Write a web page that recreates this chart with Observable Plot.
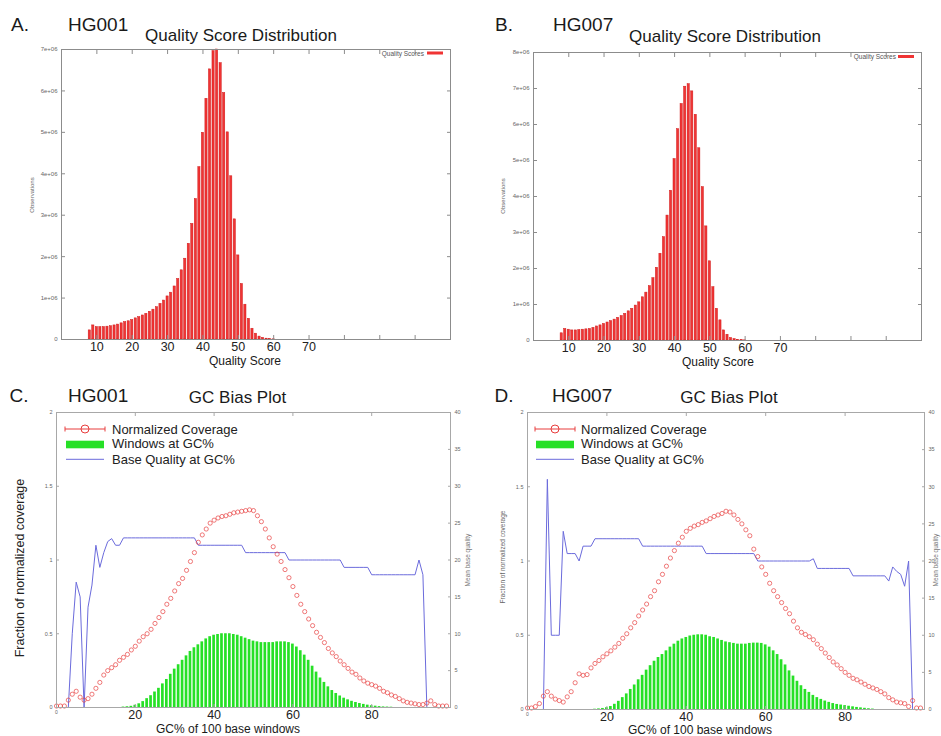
<!DOCTYPE html>
<html><head><meta charset="utf-8">
<script src="https://cdn.jsdelivr.net/npm/d3@7"></script>
<script src="https://cdn.jsdelivr.net/npm/@observablehq/plot@0.6"></script>
<style>
body{margin:0;background:#fff;}
#fig{position:relative;width:941px;height:736px;overflow:hidden;background:#fff;font-family:"Liberation Sans",Arial,sans-serif;}
.abs{position:absolute;white-space:nowrap;line-height:1;}
.panel{position:absolute;}
</style></head><body><div id="fig"></div>
<script>
// ---------- Quality score distributions (observations, millions) ----------
const qualityScores = d3.range(8, 61);
const hg001Observations = [0.22,0.34,0.30,0.30,0.30,0.31,0.32,0.34,0.36,0.39,0.42,0.44,0.47,0.51,0.54,0.58,0.62,0.67,0.72,0.78,0.86,0.94,1.04,1.13,1.28,1.46,1.67,1.95,2.31,2.79,3.39,4.16,4.99,5.81,6.52,6.96,7.0,6.67,5.95,5.0,3.94,2.90,2.03,1.34,0.84,0.50,0.26,0.14,0.07,0.04,0.02,0.01,0.005];
const hg007Observations = [0.20,0.32,0.30,0.28,0.28,0.29,0.30,0.31,0.32,0.35,0.39,0.42,0.46,0.50,0.54,0.58,0.63,0.68,0.74,0.81,0.88,0.97,1.06,1.20,1.33,1.51,1.73,2.02,2.41,2.87,3.47,4.16,5.04,5.87,6.57,7.05,7.12,6.92,6.27,5.34,4.26,3.17,2.2,1.48,0.88,0.56,0.28,0.16,0.07,0.04,0.02,0.01,0.005];
const obsTicksA = [0,1,2,3,4,5,6,7];
const obsTicksB = [0,1,2,3,4,5,6,7,8];
const qualityTickLabels = [10,20,30,40,50,60,70];
const qualityTicks = [10,20,30,40,50,60,70,80,90,100];

// ---------- GC bias ----------
const gcPercent = d3.range(0, 100);
const hg001Coverage = [0.01,0.01,0.01,0.05,0.09,0.11,0.07,0.05,0.06,0.09,
 0.13,0.17,0.22,0.25,0.27,0.29,0.32,0.34,0.36,0.39,
 0.415,0.45,0.48,0.50,0.53,0.57,0.61,0.65,0.70,0.74,
 0.79,0.84,0.875,0.93,0.99,1.05,1.12,1.17,1.21,1.25,
 1.27,1.285,1.295,1.30,1.31,1.32,1.325,1.33,1.335,1.34,
 1.335,1.30,1.26,1.21,1.15,1.09,1.04,0.99,0.935,0.88,
 0.82,0.76,0.70,0.65,0.60,0.555,0.51,0.475,0.44,0.40,
 0.37,0.345,0.315,0.29,0.265,0.24,0.225,0.20,0.18,0.165,
 0.155,0.145,0.13,0.11,0.10,0.085,0.075,0.06,0.045,0.035,
 0.03,0.025,0.02,0.02,0.03,0.045,0.02,0.01,0.01,0.01];
const hg007Coverage = [0.01,0.01,0.02,0.04,0.09,0.12,0.09,0.07,0.06,0.05,
 0.085,0.12,0.18,0.24,0.23,0.235,0.28,0.31,0.33,0.355,
 0.375,0.395,0.42,0.445,0.48,0.51,0.55,0.585,0.63,0.67,
 0.71,0.76,0.80,0.86,0.91,0.965,1.02,1.07,1.12,1.16,
 1.20,1.22,1.235,1.245,1.26,1.27,1.285,1.30,1.31,1.32,
 1.335,1.33,1.31,1.28,1.25,1.21,1.17,1.08,1.03,0.96,
 0.91,0.85,0.80,0.76,0.72,0.68,0.645,0.595,0.55,0.52,
 0.505,0.49,0.47,0.44,0.41,0.38,0.35,0.32,0.30,0.275,
 0.25,0.23,0.21,0.20,0.185,0.17,0.155,0.145,0.135,0.12,
 0.105,0.08,0.065,0.05,0.045,0.04,0.02,0.06,0.01,0.01];
const hg001BaseQuality = [0,0,0,0,10,17,15,0,13.6,16.6,
 22,19,21,22.5,22.9,22,22,23,23,23,
 23,23,23,23,23,23,23,23,23,23,
 23,23,23,23,23,23,22,22,22,22,
 22,22,22,22,22,22,22,22,21,21,
 21,21,21,21,21,21,21,21,21,20,
 20,20,20,20,20,20,20,20,20,20,
 20,20,20,19,19,19,19,19,19,19,
 18,18,18,18,18,18,18,18,18,18,
 18,18,20,18,0];
const hg007BaseQuality = [0,0,0,0,0,31,10,10,10,24,
 21,21,21,20,22,22,22,23,23,23,
 23,23,23,23,23,23,23,23,23,22,
 22,22,22,22,22,22,22,22,22,22,
 22,22,22,22,22,21,21,21,21,21,
 21,21,21,21,21,21,21,21,20,20,
 20,20,20,20,20,20,20,20,20,20,
 20,20,20.3,19,19,19,19,19,19,19,
 19,19,18,18,18,18,18,18,18,18,
 18,17.3,19.2,18.6,18.2,16.6,20,0];
const hg001WindowGC = d3.range(17, 86);
const hg001Windows = [0.003,0.005,0.008,0.015,0.025,0.04,0.06,0.08,0.105,0.13,
 0.16,0.19,0.225,0.26,0.29,0.32,0.35,0.38,0.405,0.425,
 0.445,0.465,0.48,0.49,0.495,0.50,0.50,0.50,0.495,0.49,
 0.48,0.47,0.46,0.45,0.445,0.44,0.44,0.44,0.44,0.445,
 0.445,0.445,0.44,0.43,0.41,0.385,0.355,0.32,0.28,0.24,
 0.20,0.17,0.14,0.115,0.095,0.078,0.063,0.052,0.042,0.034,
 0.027,0.021,0.016,0.012,0.009,0.006,0.004,0.003,0.002];
const hg007WindowGC = d3.range(17, 88);
const hg007Windows = [0.002,0.004,0.007,0.012,0.02,0.035,0.055,0.08,0.105,0.135,
 0.165,0.20,0.23,0.265,0.295,0.325,0.35,0.37,0.395,0.42,
 0.44,0.46,0.475,0.485,0.495,0.50,0.503,0.503,0.50,0.49,
 0.485,0.475,0.465,0.455,0.45,0.445,0.44,0.44,0.44,0.445,
 0.447,0.447,0.445,0.435,0.42,0.395,0.37,0.335,0.30,0.26,
 0.225,0.19,0.16,0.135,0.115,0.095,0.08,0.068,0.057,0.048,
 0.04,0.034,0.03,0.026,0.022,0.018,0.014,0.011,0.008,0.005,0.003];
const coverageTicks = [0,0.5,1,1.5,2];
const baseQualityTicks = [0,5,10,15,20,25,30,35,40];
const coverageMax = 2, baseQualityMax = 40;
const gcTickLabels = [20,40,60,80];
const gcTicks = [0,20,40,60,80,100];

// ---------- build ----------
const fig = document.getElementById("fig");
const plotStyle = {fontFamily: '"Liberation Sans", Arial, sans-serif', fontSize: "10px", background: "transparent", overflow: "visible"};

function place(node, left, top, w, h) {
  const d = document.createElement("div");
  d.className = "panel";
  d.style.cssText = `left:${left}px;top:${top}px;width:${w}px;height:${h}px;`;
  d.appendChild(node); fig.appendChild(d);
}
function txt(text, x, y, size, {anchor = "middle", rotate = 0, color = "#1a1a1a"} = {}) {
  const d = document.createElement("div");
  d.className = "abs"; d.textContent = text;
  const tx = anchor === "start" ? "0" : anchor === "end" ? "-100%" : "-50%";
  d.style.left = x + "px"; d.style.top = y + "px";
  d.style.fontSize = size + "px"; d.style.color = color;
  d.style.transform = `translate(${tx},-50%)` + (rotate ? ` rotate(${rotate}deg)` : "");
  fig.appendChild(d);
}

function qualityPlot(obs, yTicks, w, h, m) {
  const table = qualityScores.map((q, i) => ({q, v: obs[i]}));
  const grey = "#8c8c8c";
  return Plot.plot({
    width: w, height: h, marginLeft: m[0], marginRight: m[1], marginTop: m[2], marginBottom: m[3],
    x: {domain: [0, 110], label: null},
    y: {domain: [0, yTicks[yTicks.length - 1]], label: null},
    style: plotStyle,
    marks: [
      Plot.rectY(table, {x1: d => d.q - 0.31, x2: d => d.q + 0.31, y: "v", fill: "#f03434", stroke: "#d01a1a", strokeWidth: 0.5}),
      Plot.frame({stroke: grey}),
      Plot.axisY({ticks: yTicks, tickSize: 0, tickPadding: 4, fontSize: 6, fill: "#666", tickFormat: d => d === 0 ? "0" : `${d}e+06`, label: null}),
      Plot.axisY({ticks: yTicks, tickSize: -4, text: null, stroke: grey, label: null}),
      Plot.axisY({anchor: "right", ticks: yTicks, tickSize: -4, text: null, stroke: grey, label: null}),
      Plot.axisX({ticks: qualityTicks, tickSize: -4, text: null, stroke: grey, label: null}),
      Plot.axisX({anchor: "top", ticks: qualityTicks, tickSize: -4, text: null, stroke: grey, label: null}),
      Plot.axisX({ticks: qualityTickLabels, tickSize: 0, tickPadding: 3, fontSize: 12.5, fill: "#222", label: null})
    ]
  });
}

function gcPlot(coverage, baseQuality, windowGC, windows, w, h, m, pad) {
  const red = gcPercent.map((gc, i) => ({gc, v: coverage[i]}));
  const blue = baseQuality.map((q, i) => ({gc: gcPercent[i], q}));
  const green = windowGC.map((gc, i) => ({gc, v: windows[i]}));
  const grey = "#a8a8a8";
  const rightPos = baseQualityTicks.map(d => d * coverageMax / baseQualityMax);
  return Plot.plot({
    width: w, height: h, marginLeft: m[0], marginRight: m[1], marginTop: m[2], marginBottom: m[3],
    x: {domain: [0, 100], label: null},
    y: {domain: [0, coverageMax], label: null},
    style: plotStyle,
    marks: [
      Plot.rectY(green, {x1: d => d.gc - 0.34, x2: d => d.gc + 0.34, y: "v", fill: "#26e026"}),
      Plot.line(blue, {x: "gc", y: d => d.q * coverageMax / baseQualityMax, stroke: "#6b6bdc", strokeWidth: 1}),
      Plot.dot(red, {x: "gc", y: "v", r: 2.1, stroke: "#e83c3c", strokeWidth: 0.75, strokeOpacity: 0.9}),
      Plot.frame({stroke: grey}),
      Plot.axisY({ticks: coverageTicks, tickSize: 0, tickPadding: 4, fontSize: 5.5, fill: "#666", tickFormat: d => String(d), label: null}),
      Plot.axisY({ticks: coverageTicks, tickSize: -3, text: null, stroke: grey, label: null}),
      Plot.axisY({anchor: "right", ticks: rightPos, tickSize: 0, tickPadding: 4, fontSize: 5.5, fill: "#666", tickFormat: d => String(d * baseQualityMax / coverageMax), label: null}),
      Plot.axisY({anchor: "right", ticks: rightPos, tickSize: -3, text: null, stroke: grey, label: null}),
      Plot.axisX({ticks: gcTicks, tickSize: -3, text: null, stroke: grey, label: null}),
      Plot.axisX({anchor: "top", ticks: gcTicks, tickSize: -3, text: null, stroke: grey, label: null}),
      Plot.axisX({ticks: [0], tickSize: 0, tickPadding: 3, fontSize: 5, fill: "#666", label: null}),
      Plot.axisX({ticks: gcTickLabels, tickSize: 0, tickPadding: pad, fontSize: 12.5, fill: "#222", label: null})
    ]
  });
}

place(qualityPlot(hg001Observations, obsTicksA, 470, 340, [61, 20, 19, 31]), 0, 30, 470, 340);
place(qualityPlot(hg007Observations, obsTicksB, 471, 340, [63, 20, 22, 30]), 470, 30, 471, 340);
place(gcPlot(hg001Coverage, hg001BaseQuality, hg001WindowGC, hg001Windows, 470, 346, [56, 20, 22, 29], 3), 0, 390, 470, 346);
place(gcPlot(hg007Coverage, hg007BaseQuality, hg007WindowGC, hg007Windows, 471, 346, [57, 17, 22, 27], 3), 470, 390, 471, 346);

// panel letters, sample names, titles
txt("A.", 20, 24, 19);
txt("HG001", 68, 23.5, 19, {anchor: "start"});
txt("Quality Score Distribution", 241, 35, 17);
txt("B.", 504, 23.5, 19);
txt("HG007", 553, 23.5, 19, {anchor: "start"});
txt("Quality Score Distribution", 725, 35.5, 17);
txt("C.", 19, 395, 19);
txt("HG001", 68, 395, 19, {anchor: "start"});
txt("GC Bias Plot", 237.5, 397, 17);
txt("D.", 504, 395, 19);
txt("HG007", 552, 395, 19, {anchor: "start"});
txt("GC Bias Plot", 729, 397, 17);

// axis titles
txt("Quality Score", 245, 361, 12);
txt("Quality Score", 718, 362, 12);
txt("Observations", 32, 195, 6, {rotate: -90, color: "#666"});
txt("Observations", 503, 196, 6, {rotate: -90, color: "#666"});
txt("GC% of 100 base windows", 228, 728.5, 12);
txt("GC% of 100 base windows", 700, 729.6, 12);
txt("Fraction of normalized coverage", 20, 567.5, 12.5, {rotate: -90, color: "#222"});
txt("Fraction of normalized coverage", 503, 557, 6.5, {rotate: -90, color: "#666"});
txt("Mean base quality", 468, 560, 6.5, {rotate: -90, color: "#777"});
txt("Mean base quality", 935.5, 560, 6.5, {rotate: -90, color: "#777"});

// legends
txt("Quality Scores", 424, 53.5, 6.5, {anchor: "end", color: "#555"});
txt("Quality Scores", 896, 56.7, 6.5, {anchor: "end", color: "#555"});
const legendNames = ["Normalized Coverage", "Windows at GC%", "Base Quality at GC%"];
const legendY = [429, 443, 458.5];
legendNames.forEach((n, i) => { txt(n, 112, legendY[i], 13, {anchor: "start", color: "#222"}); txt(n, 581, legendY[i], 13, {anchor: "start", color: "#222"}); });

const ns = "http://www.w3.org/2000/svg";
const ov = document.createElementNS(ns, "svg");
ov.setAttribute("width", 941); ov.setAttribute("height", 736);
ov.style.cssText = "position:absolute;left:0;top:0;pointer-events:none;";
function sym(x0) {
  return `<line x1="${x0}" x2="${x0+40}" y1="429" y2="429" stroke="#e83c3c" stroke-width="1"/>
  <line x1="${x0}" x2="${x0}" y1="426.5" y2="431.5" stroke="#e83c3c" stroke-width="1"/>
  <line x1="${x0+40}" x2="${x0+40}" y1="426.5" y2="431.5" stroke="#e83c3c" stroke-width="1"/>
  <circle cx="${x0+20}" cy="429" r="4" fill="none" stroke="#e83c3c" stroke-width="1"/>
  <rect x="${x0+1}" y="440.7" width="38" height="7.6" fill="#26e026"/>
  <line x1="${x0+1}" x2="${x0+39}" y1="459.3" y2="459.3" stroke="#6b6bdc" stroke-width="1"/>`;
}
ov.innerHTML = sym(65) + sym(535) +
  `<rect x="427" y="51.5" width="16" height="3" fill="#f03434"/>
   <rect x="898" y="55" width="16" height="3" fill="#f03434"/>`;
fig.appendChild(ov);
</script>
</body></html>
